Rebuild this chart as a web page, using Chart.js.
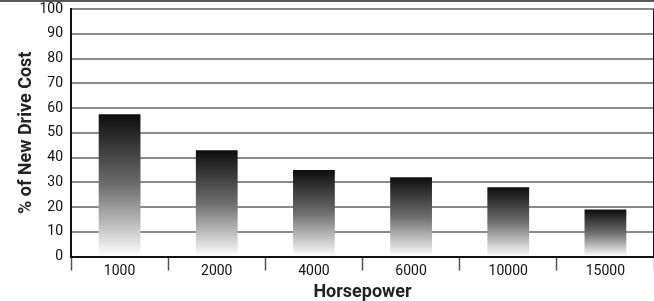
<!DOCTYPE html>
<html>
<head>
<meta charset="utf-8">
<script src="https://cdn.jsdelivr.net/npm/chart.js@4"></script>
<style>
  html, body { margin: 0; padding: 0; background: #fff; }
  #wrap { width: 654px; height: 301px; position: relative; }
</style>
</head>
<body>
<div id="wrap"><canvas id="driveChart"></canvas></div>
<script>
// horsepower categories and % of new drive cost
const categories = ['1000', '2000', '4000', '6000', '10000', '15000'];
const costPercent = [57.5, 43, 35, 32, 28, 19];

const fontFamily = "'Roboto', 'Liberation Sans', Arial, sans-serif";

// each bar fades from near-black at its top to white at the axis
function barGradient(context) {
    const chart = context.chart;
    const y = chart.scales.y;
    if (!chart.chartArea || !y) return '#444';
    const v = context.raw;
    const top = y.getPixelForValue(v);
    const bottom = y.getPixelForValue(0);
    const g = chart.ctx.createLinearGradient(0, top, 0, bottom);
    g.addColorStop(0, '#0d0d0d');
    g.addColorStop(0.5, '#6e6e6e');
    g.addColorStop(1, '#ffffff');
    return g;
}

// top dark band and right border of the plot
const framePlugin = {
    id: 'frame',
    beforeDraw(chart) {
        const c = chart.ctx;
        c.save();
        c.fillStyle = '#5a5a5a';
        c.fillRect(0, 0, chart.width, 2);
        c.restore();
    },
    afterDraw(chart) {
        const c = chart.ctx;
        const a = chart.chartArea;
        c.save();
        c.strokeStyle = '#111';
        c.lineWidth = 2;
        c.beginPath();
        c.moveTo(a.right, a.top);
        c.lineTo(a.right, a.bottom);
        c.stroke();
        c.restore();
    }
};

new Chart(document.getElementById('driveChart').getContext('2d'), {
    type: 'bar',
    data: {
        labels: categories,
        datasets: [{
            label: '% of New Drive Cost',
            data: costPercent,
            backgroundColor: barGradient,
            borderWidth: 0,
            categoryPercentage: 0.43,
            barPercentage: 1
        }]
    },
    options: {
        responsive: true,
        maintainAspectRatio: false,
        animation: false,
        layout: { padding: { top: 9, right: 0, left: 0, bottom: -2 } },
        plugins: {
            legend: { display: false },
            tooltip: { enabled: false }
        },
        scales: {
            x: {
                grid: {
                    offset: true,
                    drawOnChartArea: false,
                    drawTicks: true,
                    tickLength: 14,
                    tickColor: '#555',
                    tickWidth: 1.5
                },
                border: { display: true, color: '#111', width: 2 },
                ticks: {
                    color: '#111',
                    padding: -8,
                    font: { family: fontFamily, size: 14 }
                },
                title: {
                    display: true,
                    text: 'Horsepower',
                    color: '#222',
                    padding: { top: 10, bottom: 0 },
                    font: { family: fontFamily, size: 18, weight: 'bold' }
                }
            },
            y: {
                min: 0,
                max: 100,
                afterFit(scale) {
                    scale.width = 71;
                    scale.paddingTop = 0;
                    scale.paddingBottom = 0;
                },
                ticks: {
                    stepSize: 10,
                    color: '#111',
                    padding: 8,
                    font: { family: fontFamily, size: 14 }
                },
                grid: {
                    color: '#8a8a8a',
                    lineWidth: 2,
                    drawTicks: false
                },
                border: { display: true, color: '#111', width: 2 },
                title: {
                    display: true,
                    text: '% of New Drive Cost',
                    color: '#222',
                    padding: { top: 16, bottom: 1 },
                    font: { family: fontFamily, size: 18, weight: 'bold' }
                }
            }
        }
    },
    plugins: [framePlugin]
});
</script>
</body>
</html>
